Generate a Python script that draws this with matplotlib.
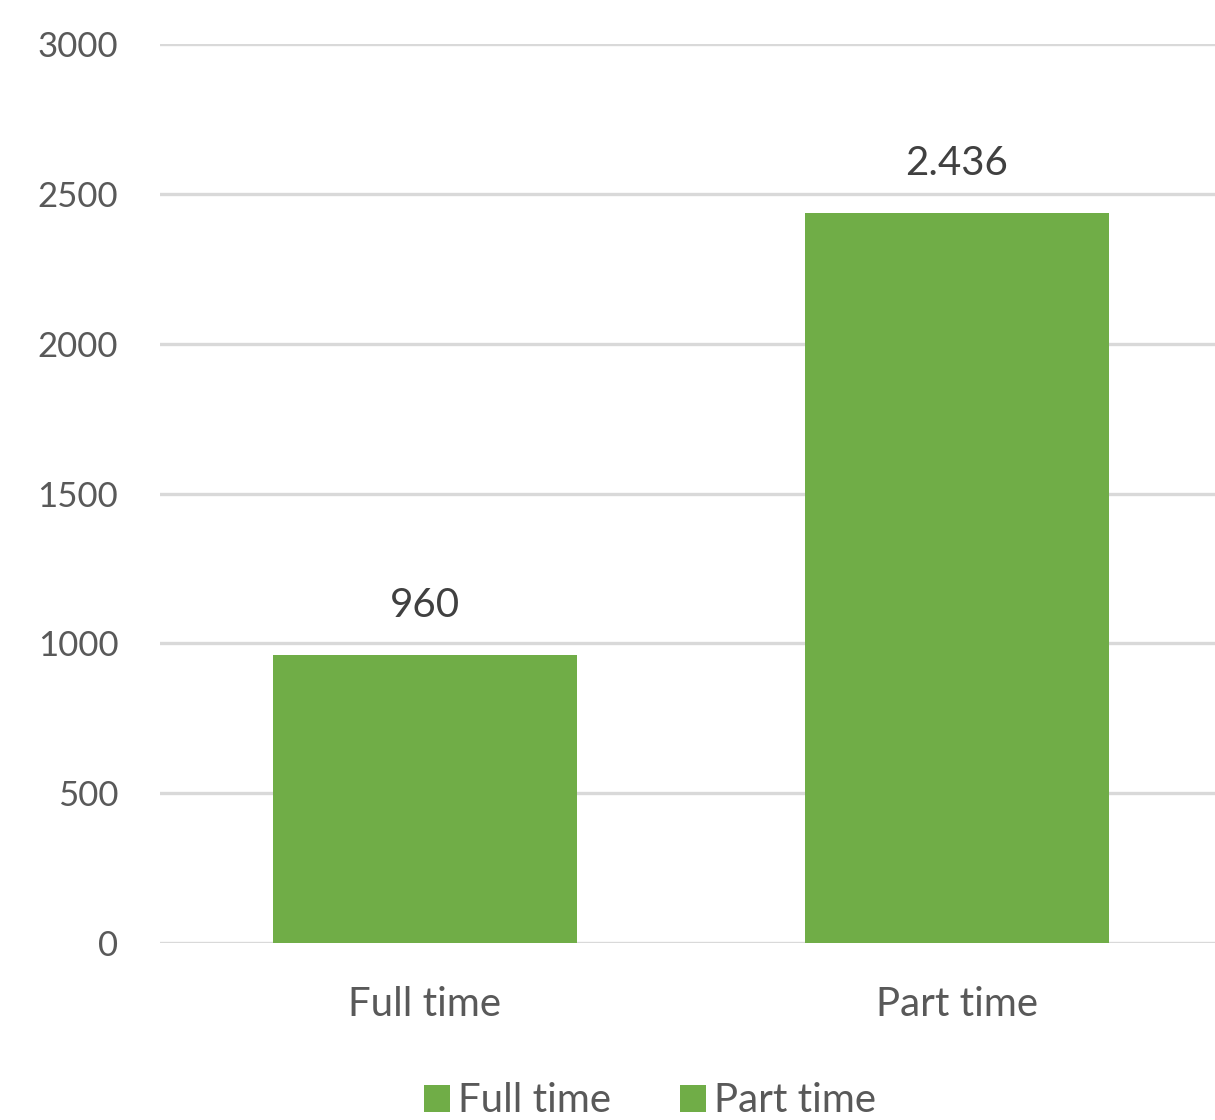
import matplotlib
matplotlib.use("Agg")
import matplotlib.pyplot as plt

# data
categories = ["Full time", "Part time"]
values = [960, 2436]
value_labels = ["960", "2.436"]
yticks = [0, 500, 1000, 1500, 2000, 2500, 3000]

bar_color = "#70AD47"
text_color = "#595959"
plt.rcParams['font.family'] = ['Lato', 'DejaVu Sans']

fig = plt.figure(figsize=(12.15, 11.2), dpi=100)
ax = fig.add_axes([0.1317, 0.158, 0.8683, 0.8027])

x = list(range(len(categories)))
for i, (cat, val) in enumerate(zip(categories, values)):
    ax.bar(x[i], val, width=0.57, color=bar_color, label=cat, zorder=3)
    ax.annotate(value_labels[i], (x[i], val), xytext=(0, 36), textcoords="offset points",
                ha="center", va="center", fontsize=29, color="#404040")

ax.set_ylim(0, 3000)
ax.set_xlim(-0.498, 1.485)
ax.set_yticks(yticks)
ax.set_yticklabels([str(t) for t in yticks])
ax.set_xticks(x)
ax.set_xticklabels(categories)
ax.tick_params(axis="y", length=0, pad=30, labelsize=25, labelcolor=text_color)
ax.tick_params(axis="x", length=0, pad=31, labelsize=29, labelcolor=text_color)
ax.grid(axis="y", color="#D9D9D9", linewidth=2.4, zorder=0)
for s in ax.spines.values():
    s.set_visible(False)

leg = fig.legend(loc="center", bbox_to_anchor=(0.535, 0.017), ncol=2, frameon=False,
                 fontsize=29, handlelength=0.65, handleheight=0.65, handletextpad=0.2,
                 columnspacing=1.7, labelcolor=text_color)

fig.savefig("out.png", dpi=100, facecolor="white")
